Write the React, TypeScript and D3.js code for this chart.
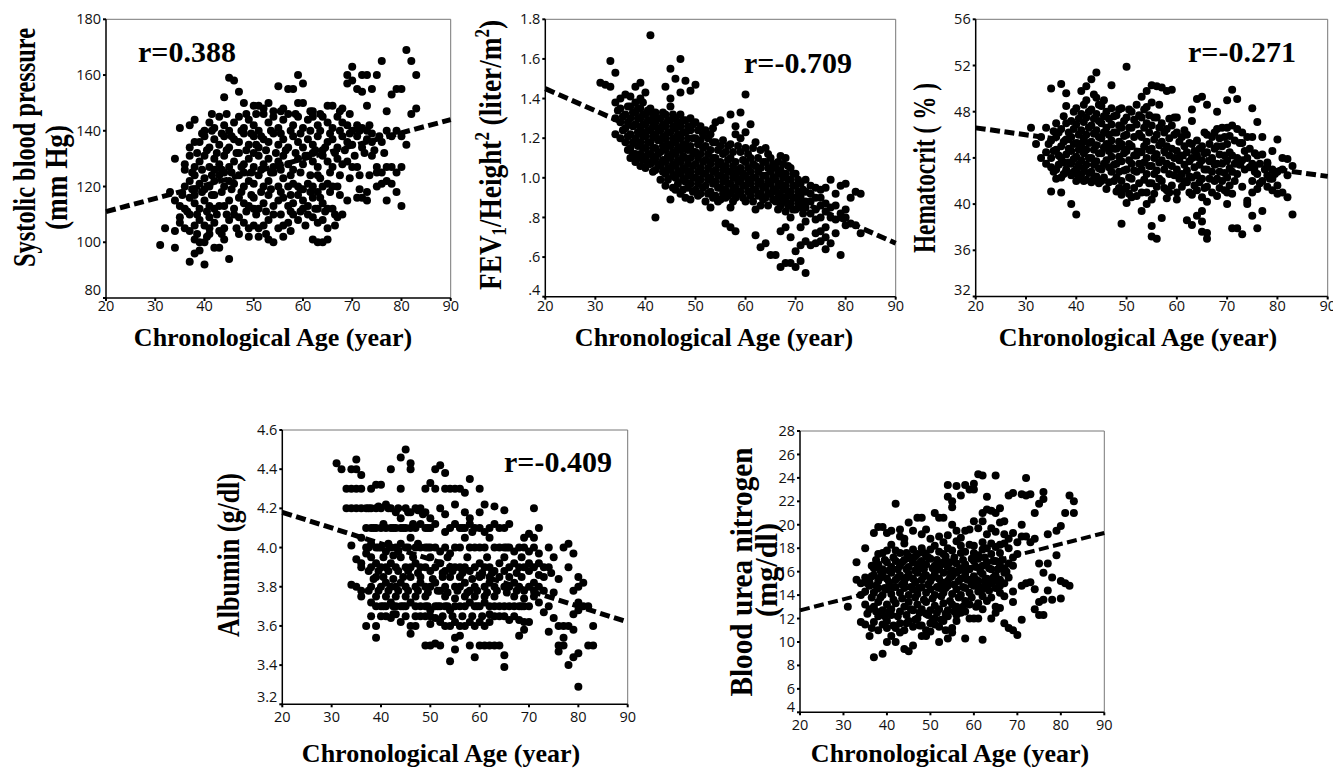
import React from "react";
import * as d3 from "d3";

// ---------- DATA ----------
const ageTicks = [20, 30, 40, 50, 60, 70, 80, 90];

const sbpTicks = [80, 100, 120, 140, 160, 180];
const fevTicks = [0.4, 0.6, 0.8, 1.0, 1.2, 1.4, 1.6, 1.8];
const fevTickLabels = [".4", ".6", ".8", "1.0", "1.2", "1.4", "1.6", "1.8"];
const hctTicks = [32, 36, 40, 44, 48, 52, 56];
const albTicks = [3.2, 3.4, 3.6, 3.8, 4.0, 4.2, 4.4, 4.6];
const albTickLabels = ["3.2", "3.4", "3.6", "3.8", "4.0", "4.2", "4.4", "4.6"];
const bunTicks = [4, 6, 8, 10, 12, 14, 16, 18, 20, 22, 24, 26, 28];

// regression line values at age 20 and age 90
const sbpFit = [111, 144];
const fevFit = [1.45, 0.67];
const hctFit = [46.6, 42.4];
const albFit = [4.18, 3.62];
const bunFit = [12.7, 19.3];

const rLabels = ["r=0.388", "r=-0.709", "r=-0.271", "r=-0.409"];

const sbpPoints: [number, number][] = [
  [37,93],[38,96],[39,97],[40,92],[31,99],[34,98],[42,98],[43,98],[45,94],[39,100],[38,101],[40,100],[41,103],[44,101],[47,103],[49,102],[51,102],[53,101],[54,100],[56,102],[62,101],[63,100],[64,100],[65,101],
  [32,105],[34,104],[35,107],[36,105],[37,104],[38,106],[39,108],[40,106],[41,105],[42,107],[43,104],[44,105],[45,108],[46,110],[48,107],[49,105],[50,106],[51,105],[52,106],[53,108],[55,105],[56,106],[57,107],[58,110],[59,108],[61,110],[62,109],[63,107],[64,108],[65,105],[67,109],[68,110],[35,109],[37,110],[41,109],[47,109],[54,110],
  [33,118],[34,115],[35,113],[36,112],[37,116],[38,114],[39,112],[40,115],[41,113],[42,117],[43,113],[44,113],[45,115],[46,112],[47,116],[48,114],[49,113],[50,116],[51,112],[52,114],[53,117],[54,113],[55,115],[56,116],[57,113],[58,114],[59,117],[60,115],[61,113],[62,116],[63,112],[64,114],[65,112],[66,112],[69,115],[71,116],[72,116],[73,115],[77,115],[80,113],[38,117],[42,112],[50,112],[60,112],
  [36,120],[37,122],[38,119],[39,121],[40,123],[41,120],[42,122],[43,124],[44,120],[45,122],[46,121],[47,124],[48,120],[49,122],[50,121],[51,124],[52,120],[53,122],[54,125],[55,120],[56,123],[57,120],[58,121],[59,120],[60,119],[61,121],[62,120],[63,118],[64,120],[65,121],[66,120],[67,120],[73,118],[75,120],[76,121],[77,122],[78,121],[79,118],[38,124],[40,119],[44,125],[48,125],[63,124],[75,125],[76,125],[79,125],
  [34,130],[36,128],[37,131],[38,127],[39,129],[40,131],[41,127],[42,130],[43,128],[44,131],[45,127],[46,129],[47,132],[48,128],[49,130],[50,127],[51,131],[52,128],[53,130],[54,127],[55,129],[56,131],[57,128],[58,126],[59,130],[60,128],[61,131],[62,129],[63,127],[64,131],[65,129],[66,127],[67,130],[68,128],[69,129],[70,127],[71,127],[74,131],[75,127],[77,127],[78,127],[80,127],[36,126],[42,126],[50,132],[62,132],
  [37,134],[38,136],[39,136],[40,138],[41,134],[42,137],[43,135],[44,138],[45,134],[46,137],[47,136],[48,139],[49,135],[50,138],[51,134],[52,137],[53,136],[54,139],[55,135],[56,137],[57,134],[58,138],[59,136],[60,134],[61,137],[62,135],[63,138],[64,133],[65,136],[66,137],[67,134],[68,138],[69,136],[70,135],[71,138],[72,134],[73,137],[74,136],[76,136],[77,140],[78,138],[79,140],[80,138],[81,135],
  [35,141],[37,142],[38,144],[40,140],[41,143],[42,141],[43,145],[44,142],[45,140],[46,143],[47,145],[48,141],[49,144],[50,142],[51,140],[52,146],[53,143],[54,145],[55,141],[56,144],[57,146],[58,142],[59,145],[60,141],[61,144],[62,145],[63,142],[64,145],[65,143],[66,141],[67,145],[68,143],[69,142],[70,140],[71,142],[72,141],[73,140],[74,139],
  [44,152],[47,154],[48,150],[50,149],[51,149],[52,148],[53,150],[55,156],[56,148],[57,155],[58,155],[59,150],[60,150],[65,149],[66,149],[68,148],[71,155],[72,154],[73,149],[74,155],[77,147],[78,153],[79,155],[80,155],[82,146],[83,148],[54,147],[62,147],
  [45,159],[46,158],[59,160],[60,157],[69,160],[70,163],[70,158],[72,160],[73,160],[75,160],[76,165],[81,169],[82,165],[83,160],[69,157],
  [38.5,103],[40.5,102],[43.5,103],[46.5,105],[52.5,103],[57.5,104],[60.5,106],[66.5,106],
  [36.5,111],[38.5,110],[40.5,111],[42.5,110],[44.5,110],[48.5,111],[50.5,110],[52.5,111],[55.5,110],[57.5,111],[59.5,111],[62.5,112],[64.5,111],[66.5,110],
  [35.5,117],[37.5,119],[39.5,118],[41.5,117],[43.5,118],[45.5,119],[47.5,118],[49.5,117],[51.5,118],[53.5,119],[55.5,118],[57.5,117],[59.5,119],[61.5,118],[63.5,116],[65.5,118],[67.5,117],[71.5,119],
  [37.5,125],[39.5,126],[41.5,124],[43.5,126],[45.5,125],[47.5,127],[49.5,125],[51.5,126],[53.5,125],[55.5,126],[57.5,124],[59.5,125],[61.5,124],[63.5,123],[65.5,125],[67.5,124],[69.5,123],[71.5,124],[73.5,124],
  [38.5,132],[40.5,133],[42.5,132],[44.5,133],[46.5,132],[48.5,133],[50.5,135],[52.5,133],[54.5,132],[56.5,133],[58.5,132],[60.5,131],[62.5,133],[64.5,134],[66.5,132],[68.5,133],[70.5,131],[72.5,132],[74.5,133],[76.5,132],
  [39.5,139],[41.5,140],[43.5,139],[45.5,138],[47.5,140],[49.5,139],[51.5,138],[53.5,140],[55.5,139],[57.5,140],[59.5,139],[61.5,140],[63.5,140],[65.5,139],[67.5,140],[69.5,139],[71.5,140],[73.5,142],[75.5,138],
  [41.5,146],[44.5,146],[48.5,146],[50.5,146],[55.5,147],[58.5,146],[61.5,147],[63.5,146],[67.5,147],[69.5,146],
];

const fevPoints: [number, number][] = [
  [41,1.72],[33,1.59],[34,1.53],[31,1.48],[32,1.47],[33,1.46],[45,1.55],[47,1.60],[46,1.50],[48,1.49],[50,1.47],[49,1.44],[44,1.46],[45,1.40],[47,1.43],[39,1.48],[38,1.46],[40,1.43],[42,0.80],[60,1.42],[57,1.32],[59,1.33],[61,1.27],[58,1.26],
  [56,0.77],[57,0.75],[58,0.73],[57,0.85],[62,0.71],[63,0.65],[64,0.67],[65,0.61],[66,0.61],[67,0.55],[68,0.57],[69,0.57],[70,0.55],[72,0.52],[71,0.58],[71,0.66],[72,0.68],[73,0.66],[70,0.63],[69,0.70],[67,0.73],[68,0.75],[79,0.61],[76,0.64],[75,0.68],[74,0.72],[77,0.67],[78,0.79],[80,0.80],[81,0.77],[82,0.76],[83,0.72],[81,0.90],[82,0.93],[83,0.92],[80,0.97],[79,0.96],[77,0.99],[76,0.95],[78,0.92],[80,0.84],[77,0.85],[76,0.87],[75,0.90],[74,0.95],[73,0.88],[75,0.80],[76,0.75],[74,0.79],[73,0.82],[72,0.85],[72,0.78],[71,0.75],[45,0.89],[44,0.96],[47,0.92],
  [34,1.38],[35,1.35],[34,1.30],[35,1.28],[36,1.25],[35,1.20],[36,1.18],[34,1.22],[36,1.32],[35,1.40],[36,1.42],[37,1.41],[37,1.36],[37,1.30],[37,1.22],[37,1.15],[37,1.10],[38,1.38],[38,1.33],[38,1.27],[38,1.20],[38,1.12],[38,1.08],
  [39,1.40],[39,1.35],[39,1.30],[39,1.25],[39,1.18],[39,1.12],[39,1.06],[40,1.32],[40,1.27],[40,1.21],[40,1.15],[40,1.10],[40,1.05],[41,1.35],[41,1.29],[41,1.24],[41,1.18],[41,1.12],[41,1.07],[42,1.33],[42,1.28],[42,1.22],[42,1.15],[42,1.10],[42,1.04],[43,1.30],[43,1.24],[43,1.19],[43,1.13],[43,1.06],[43,0.99],
  [44,1.32],[44,1.26],[44,1.20],[44,1.14],[44,1.08],[44,1.02],[45,1.36],[45,1.29],[45,1.23],[45,1.16],[45,1.10],[45,1.04],[46,1.30],[46,1.25],[46,1.18],[46,1.12],[46,1.06],[46,1.00],[46,0.94],[47,1.32],[47,1.26],[47,1.20],[47,1.14],[47,1.08],[47,1.02],[48,1.29],[48,1.23],[48,1.17],[48,1.10],[48,1.04],[48,0.98],[48,0.90],
  [49,1.30],[49,1.24],[49,1.16],[49,1.10],[49,1.03],[49,0.97],[49,0.89],[50,1.28],[50,1.20],[50,1.13],[50,1.07],[50,1.00],[50,0.94],[51,1.26],[51,1.19],[51,1.12],[51,1.05],[51,0.99],[51,0.92],[52,1.24],[52,1.16],[52,1.09],[52,1.02],[52,0.96],[52,0.88],[53,1.22],[53,1.14],[53,1.07],[53,1.00],[53,0.93],[53,0.85],
  [54,1.28],[54,1.18],[54,1.10],[54,1.04],[54,0.98],[54,0.91],[55,1.29],[55,1.16],[55,1.08],[55,1.01],[55,0.95],[55,0.89],[56,1.13],[56,1.06],[56,1.00],[56,0.94],[56,0.90],[57,1.17],[57,1.10],[57,1.03],[57,0.97],[57,0.92],[58,1.22],[58,1.08],[58,1.01],[58,0.95],[58,0.90],
  [59,1.20],[59,1.13],[59,1.05],[59,0.99],[59,0.93],[60,1.23],[60,1.15],[60,1.08],[60,1.01],[60,0.96],[60,0.88],[61,1.10],[61,1.03],[61,0.97],[61,0.91],[62,1.18],[62,1.06],[62,1.00],[62,0.94],[62,0.84],[63,1.14],[63,1.05],[63,0.98],[63,0.92],[63,0.86],
  [64,1.15],[64,1.08],[64,1.01],[64,0.95],[64,0.90],[65,1.10],[65,1.03],[65,0.97],[65,0.92],[66,1.05],[66,0.99],[66,0.93],[66,0.88],[67,1.11],[67,1.04],[67,0.97],[67,0.91],[67,0.86],[68,1.10],[68,1.02],[68,0.96],[68,0.89],[68,0.83],
  [69,1.05],[69,0.99],[69,0.93],[69,0.87],[69,0.80],[70,1.02],[70,0.96],[70,0.90],[70,0.84],[71,0.97],[71,0.91],[71,0.85],[72,0.99],[72,0.93],[72,0.88],
  [34.5,1.34],[35.5,1.31],[35.5,1.24],[36.5,1.36],[36.5,1.28],[36.5,1.21],[36.5,1.14],[37.5,1.33],[37.5,1.26],[37.5,1.18],[37.5,1.12],[38.5,1.35],[38.5,1.30],[38.5,1.23],[38.5,1.16],[38.5,1.10],
  [39.5,1.38],[39.5,1.32],[39.5,1.27],[39.5,1.21],[39.5,1.15],[39.5,1.09],[40.5,1.34],[40.5,1.29],[40.5,1.24],[40.5,1.18],[40.5,1.12],[40.5,1.07],[41.5,1.32],[41.5,1.26],[41.5,1.21],[41.5,1.15],[41.5,1.09],[41.5,1.03],[42.5,1.30],[42.5,1.25],[42.5,1.19],[42.5,1.12],[42.5,1.07],[43.5,1.33],[43.5,1.27],[43.5,1.21],[43.5,1.16],[43.5,1.09],[43.5,1.03],
  [44.5,1.29],[44.5,1.23],[44.5,1.17],[44.5,1.11],[44.5,1.05],[44.5,0.99],[45.5,1.32],[45.5,1.26],[45.5,1.20],[45.5,1.13],[45.5,1.07],[45.5,1.01],[45.5,0.95],[46.5,1.28],[46.5,1.22],[46.5,1.15],[46.5,1.09],[46.5,1.03],[46.5,0.97],[47.5,1.29],[47.5,1.23],[47.5,1.17],[47.5,1.11],[47.5,1.05],[47.5,0.99],[47.5,0.94],[48.5,1.26],[48.5,1.20],[48.5,1.14],[48.5,1.07],[48.5,1.01],[48.5,0.95],
  [49.5,1.27],[49.5,1.20],[49.5,1.13],[49.5,1.06],[49.5,1.00],[49.5,0.93],[50.5,1.24],[50.5,1.17],[50.5,1.10],[50.5,1.03],[50.5,0.97],[50.5,0.91],[51.5,1.22],[51.5,1.15],[51.5,1.08],[51.5,1.02],[51.5,0.95],[52.5,1.20],[52.5,1.12],[52.5,1.05],[52.5,0.99],[52.5,0.92],[53.5,1.25],[53.5,1.18],[53.5,1.10],[53.5,1.03],[53.5,0.97],[53.5,0.90],
  [54.5,1.14],[54.5,1.07],[54.5,1.01],[54.5,0.95],[54.5,0.88],[55.5,1.19],[55.5,1.12],[55.5,1.04],[55.5,0.98],[55.5,0.92],[56.5,1.16],[56.5,1.09],[56.5,1.03],[56.5,0.97],[56.5,0.91],[57.5,1.13],[57.5,1.06],[57.5,1.00],[57.5,0.94],[57.5,0.88],[58.5,1.16],[58.5,1.04],[58.5,0.98],[58.5,0.92],
  [59.5,1.09],[59.5,1.02],[59.5,0.96],[59.5,0.90],[60.5,1.12],[60.5,1.05],[60.5,0.99],[60.5,0.93],[61.5,1.15],[61.5,1.07],[61.5,1.00],[61.5,0.94],[61.5,0.88],[62.5,1.10],[62.5,1.03],[62.5,0.97],[62.5,0.91],[63.5,1.08],[63.5,1.01],[63.5,0.95],[63.5,0.89],
  [64.5,1.12],[64.5,1.05],[64.5,0.98],[64.5,0.92],[64.5,0.86],[65.5,1.07],[65.5,1.00],[65.5,0.94],[65.5,0.89],[66.5,1.08],[66.5,1.02],[66.5,0.96],[66.5,0.90],[66.5,0.84],[67.5,1.07],[67.5,1.00],[67.5,0.94],[67.5,0.88],[68.5,1.06],[68.5,0.99],[68.5,0.93],[68.5,0.86],[69.5,1.02],[69.5,0.96],[69.5,0.90],[69.5,0.84],[70.5,0.99],[70.5,0.93],[70.5,0.87],[71.5,0.94],[71.5,0.88],[71.5,0.82],[73,0.92],[73,0.96],[74,0.90],[74,0.84],[75,0.86],[75,0.94],[76,0.83],[77,0.80],[78,0.86],[79,0.82],[80,0.76],[78,0.72],[76,0.70],[75,0.73],[74,0.67],
];

const hctPoints: [number, number][] = [
  [50,51.9],[44,51.4],[43,50.8],[42,50.2],[41,49.8],[35,50.0],[37,50.4],[38,49.6],[47,50.3],[55,50.3],[56,50.2],[57,50.1],[58,49.8],[59,49.9],[54,49.8],[53,49.3],[71,49.9],[72,49.1],[70,49.0],[65,49.3],[64,49.1],[66,48.6],[68,48.0],[75,48.3],[76,47.1],[63,48.2],[63,47.2],[31,46.6],[32,45.2],[33,45.8],[34,46.6],[35,41.1],[37,41.0],[39,40.0],[40,39.1],[49,38.3],[53,39.4],[55,38.1],[55,37.2],[56,37.0],[57,38.8],[62,38.6],[63,38.2],[64,39.0],[65,39.4],[65,38.5],[65,37.6],[66,37.0],[66,37.5],[71,37.9],[72,37.9],[73,37.4],[76,37.9],[75,39.0],[77,39.4],[83,39.1],[80,45.6],[82,43.9],[81,44.0],[83,43.3],[82,40.6],[81,41.0],[79,44.6],[78,43.6],[70,40.0],[66,40.2],[54,40.0],[55,40.4],[50,40.1],[60,40.4],
  [33,44.0],[34,44.5],[34,43.5],[35,45.5],[35,44.0],[35,43.2],[36,47.0],[36,45.8],[36,44.7],[36,43.0],[36,42.2],[37,46.5],[37,45.0],[37,44.0],[37,42.3],[38,48.5],[38,47.0],[38,45.6],[38,44.3],[38,43.0],[38,42.8],
  [39,47.2],[39,45.8],[39,44.6],[39,43.5],[39,42.5],[40,48.3],[40,46.9],[40,45.3],[40,44.1],[40,43.0],[40,42.0],[41,47.8],[41,46.4],[41,45.0],[41,43.8],[41,42.6],[42,49.0],[42,47.5],[42,46.0],[42,44.7],[42,43.4],[42,42.1],[43,48.2],[43,46.8],[43,45.4],[43,44.0],[43,42.8],[43,41.9],
  [44,49.2],[44,47.8],[44,46.4],[44,45.1],[44,43.7],[44,42.4],[45,48.5],[45,47.0],[45,45.7],[45,44.4],[45,43.0],[45,42.0],[46,48.0],[46,46.6],[46,45.2],[46,43.8],[46,41.3],[47,48.3],[47,46.9],[47,45.5],[47,44.1],[47,42.8],[48,47.7],[48,46.2],[48,44.8],[48,43.5],[48,42.3],[48,41.1],
  [49,48.3],[49,46.6],[49,45.2],[49,43.7],[49,42.0],[49,40.8],[50,47.5],[50,46.0],[50,44.6],[50,43.0],[50,41.5],[51,48.0],[51,46.6],[51,45.0],[51,43.5],[51,42.2],[51,40.6],[52,48.6],[52,46.9],[52,44.2],[52,42.8],[52,40.7],[53,47.5],[53,45.8],[53,44.5],[53,43.0],[53,41.0],
  [54,48.4],[54,47.0],[54,45.4],[54,44.0],[54,42.6],[54,41.0],[55,48.8],[55,46.8],[55,44.8],[55,43.3],[55,41.8],[56,47.5],[56,46.0],[56,44.3],[56,42.9],[56,41.5],[57,47.0],[57,45.4],[57,43.8],[57,42.0],[58,46.5],[58,45.0],[58,43.5],[58,41.2],[58,40.5],
  [59,46.8],[59,44.8],[59,43.3],[59,41.6],[60,47.5],[60,46.2],[60,44.6],[60,43.0],[60,41.0],[61,45.8],[61,44.2],[61,42.6],[61,41.5],[62,46.0],[62,44.5],[62,42.9],[62,41.9],[63,45.2],[63,44.0],[63,42.3],[63,40.8],
  [64,45.5],[64,44.2],[64,42.5],[64,41.2],[65,45.0],[65,43.8],[65,42.2],[65,40.6],[66,46.0],[66,44.5],[66,43.0],[66,41.5],[67,45.8],[67,44.0],[67,42.8],[67,41.0],[68,46.5],[68,45.0],[68,43.5],[68,42.2],[68,40.7],
  [69,46.6],[69,45.0],[69,43.5],[69,42.0],[70,46.6],[70,45.2],[70,43.8],[70,42.3],[70,41.0],[71,46.8],[71,44.2],[71,42.8],[71,40.9],[72,46.5],[72,44.0],[72,42.6],[73,46.2],[73,45.3],[73,43.8],[73,41.5],[74,45.8],[74,44.0],[74,40.3],[74,40.0],
  [75,45.8],[75,43.5],[75,42.0],[75,41.0],[76,44.2],[76,42.6],[76,41.3],[77,45.8],[77,44.3],[77,42.0],[78,43.5],[78,42.5],[78,41.5],[79,43.0],[79,42.2],[79,41.2],[80,42.8],[80,41.6],[80,40.9],
  [34.5,45.2],[35.5,46.3],[35.5,44.6],[35.5,42.8],[36.5,46.2],[36.5,44.2],[36.5,43.4],[37.5,47.6],[37.5,45.4],[37.5,43.6],[37.5,42.6],[38.5,46.2],[38.5,44.8],[38.5,43.6],[39.5,48.0],[39.5,46.5],[39.5,45.2],[39.5,43.9],[39.5,42.8],[40.5,47.4],[40.5,46.0],[40.5,44.7],[40.5,43.4],[40.5,42.4],[41.5,48.6],[41.5,47.1],[41.5,45.7],[41.5,44.4],[41.5,43.1],[41.5,42.0],[42.5,48.0],[42.5,46.6],[42.5,45.3],[42.5,44.0],[42.5,42.7],[43.5,49.5],[43.5,47.4],[43.5,46.1],[43.5,44.7],[43.5,43.4],[43.5,42.2],
  [44.5,48.6],[44.5,47.2],[44.5,45.8],[44.5,44.4],[44.5,43.1],[44.5,41.8],[45.5,49.0],[45.5,47.6],[45.5,46.2],[45.5,44.9],[45.5,43.5],[45.5,42.3],[46.5,47.4],[46.5,46.0],[46.5,44.6],[46.5,43.2],[46.5,41.9],[47.5,47.6],[47.5,46.2],[47.5,44.8],[47.5,43.4],[47.5,42.0],[48.5,48.2],[48.5,46.8],[48.5,45.4],[48.5,44.1],[48.5,42.8],[48.5,41.4],
  [49.5,47.2],[49.5,45.9],[49.5,44.4],[49.5,42.9],[49.5,41.3],[50.5,48.2],[50.5,46.6],[50.5,45.2],[50.5,43.8],[50.5,42.3],[50.5,40.9],[51.5,47.3],[51.5,45.8],[51.5,44.2],[51.5,42.9],[51.5,41.4],[52.5,47.7],[52.5,46.1],[52.5,43.5],[52.5,41.8],[53.5,48.2],[53.5,46.6],[53.5,45.0],[53.5,43.6],[53.5,42.1],
  [54.5,47.7],[54.5,46.2],[54.5,44.7],[54.5,43.3],[54.5,41.8],[55.5,47.5],[55.5,45.6],[55.5,44.0],[55.5,42.6],[55.5,40.9],[56.5,48.6],[56.5,46.6],[56.5,45.1],[56.5,43.6],[56.5,42.2],[57.5,46.2],[57.5,44.6],[57.5,43.0],[57.5,41.4],[58.5,47.4],[58.5,45.7],[58.5,44.2],[58.5,42.6],[58.5,41.0],
  [59.5,47.5],[59.5,46.0],[59.5,44.0],[59.5,42.5],[60.5,45.4],[60.5,43.8],[60.5,42.2],[61.5,46.4],[61.5,45.0],[61.5,43.4],[61.5,42.0],[62.5,45.3],[62.5,43.7],[62.5,42.4],[62.5,41.0],[63.5,44.6],[63.5,43.2],[63.5,41.6],
  [64.5,44.8],[64.5,43.4],[64.5,41.9],[65.5,46.2],[65.5,44.4],[65.5,43.0],[65.5,41.4],[66.5,45.2],[66.5,43.7],[66.5,42.2],[67.5,46.2],[67.5,44.8],[67.5,43.4],[67.5,42.0],[68.5,45.7],[68.5,44.3],[68.5,42.8],[68.5,41.4],
  [69.5,45.8],[69.5,44.2],[69.5,42.7],[69.5,41.2],[70.5,45.9],[70.5,44.5],[70.5,43.1],[70.5,41.6],[71.5,45.5],[71.5,43.5],[71.5,42.0],[72.5,45.3],[72.5,43.4],[73.5,44.6],[73.5,43.0],[74.5,44.8],[74.5,43.2],[75.5,44.4],[75.5,42.8],[76.5,43.5],[76.5,41.8],[77.5,43.0],[78.5,42.2],[79.5,42.6],[81,43.0],[82,42.5],
];

const albPoints: [number, number][] = [
  [31,4.43],[32,4.40],[34,4.40],[35,4.45],[35,4.40],[36,4.37],[42,4.40],[44,4.46],[45,4.50],[46,4.43],[46,4.40],[51,4.40],[52,4.42],[53,4.38],[33,4.30],[34,4.30],[35,4.30],[36,4.30],[38,4.30],[39,4.32],[40,4.32],[44,4.30],[49,4.30],[50,4.33],[51,4.30],[53,4.30],[54,4.30],[55,4.30],[56,4.30],[57,4.28],[58,4.35],[60,4.30],[61,4.22],[63,4.21],[65,4.19],[71,4.20],[72,4.10],[70,4.07],[69,4.05],
  [34,4.01],[35,3.94],[36,3.92],[34,3.81],[35,3.80],[36,3.78],[36,3.75],[37,3.60],[38,3.65],[39,3.60],[39,3.54],[40,3.65],[42,3.64],[43,3.66],[46,3.56],[46,3.60],[47,3.60],[50,3.61],[49,3.50],[50,3.50],[51,3.51],[52,3.50],[54,3.42],[55,3.48],[55,3.54],[56,3.55],[58,3.50],[59,3.44],[60,3.50],[61,3.50],[62,3.50],[63,3.50],[64,3.50],[65,3.45],[65,3.39],[68,3.55],[69,3.58],[76,3.50],[76,3.47],[77,3.50],[77,3.54],[78,3.40],[79,3.44],[80,3.46],[80,3.29],[82,3.50],[83,3.50],[83,3.60],[81,3.70],[82,3.70],[80,3.68],[79,3.66],[80,3.72],[79,3.78],[80,3.80],[81,3.82],[80,3.85],[79,3.97],[78,4.02],[77,4.00],[78,3.90],[74,4.00],[75,3.95],[76,3.84],[75,3.77],[74,3.70],[75,3.64],[74,3.57],[76,3.60],[77,3.60],[78,3.60],[79,3.58],
  [33,4.2],[34,4.2],[35,4.2],[36,4.2],[37,4.2],[38,4.2],[39,4.2],[40,4.2],[41,4.22],[42,4.2],[43,4.18],[44,4.15],[45,4.2],[46,4.18],[47,4.2],[48,4.2],[49,4.18],[50,4.15],[57,4.18],[58,4.15],[60,4.18],
  [37,4.1],[38,4.1],[39,4.1],[40,4.1],[41,4.1],[42,4.1],[43,4.1],[44,4.1],[45,4.1],[46,4.1],[47,4.1],[48,4.12],[49,4.1],[50,4.1],[51,4.12],[54,4.1],[55,4.12],[56,4.1],[57,4.1],[58,4.12],[59,4.1],[62,4.1],[63,4.12],[65,4.1],
  [36,4.05],[37,4.0],[38,4.02],[39,4.0],[40,4.0],[41,3.98],[42,4.0],[43,4.0],[44,4.02],[45,4.0],[46,4.05],[47,4.0],[48,4.0],[49,4.0],[50,4.0],[52,3.98],[53,4.0],[54,3.97],[56,4.0],[57,4.05],[58,4.0],[60,4.0],[61,4.0],[62,4.05],[64,4.0],[65,4.0],[66,4.0],[67,3.98],[69,4.0],[70,3.98],[71,4.0],
  [36,3.9],[37,3.97],[38,3.9],[39,3.92],[40,3.9],[41,3.9],[42,3.92],[43,3.9],[44,3.95],[45,3.9],[46,3.9],[47,3.92],[48,3.9],[49,3.9],[51,3.9],[52,3.92],[53,3.88],[54,3.9],[55,3.9],[56,3.9],[57,3.9],[59,3.9],[60,3.92],[61,3.9],[62,3.9],[63,3.88],[64,3.92],[66,3.9],[67,3.92],[68,3.9],[69,3.9],[71,3.9],[72,3.92],[73,3.9],
  [38,3.8],[39,3.85],[40,3.8],[41,3.82],[42,3.8],[43,3.8],[44,3.82],[45,3.8],[46,3.85],[47,3.8],[48,3.82],[49,3.8],[50,3.8],[51,3.82],[52,3.78],[53,3.8],[54,3.85],[55,3.8],[56,3.8],[57,3.82],[58,3.78],[59,3.8],[60,3.85],[61,3.8],[62,3.82],[63,3.8],[64,3.85],[65,3.8],[66,3.8],[67,3.82],[68,3.8],[69,3.78],[70,3.8],[71,3.82],[72,3.8],[73,3.85],
  [38,3.72],[39,3.7],[40,3.7],[41,3.7],[42,3.72],[43,3.7],[44,3.7],[45,3.7],[46,3.72],[48,3.7],[49,3.7],[50,3.68],[51,3.7],[52,3.7],[53,3.7],[54,3.68],[57,3.7],[58,3.72],[59,3.7],[60,3.7],[61,3.72],[62,3.7],[64,3.7],[66,3.7],[67,3.7],[68,3.7],[69,3.7],[71,3.75],[72,3.72],
  [44,3.62],[45,3.65],[48,3.65],[49,3.65],[51,3.64],[52,3.62],[53,3.6],[54,3.6],[55,3.62],[56,3.6],[57,3.6],[58,3.62],[59,3.6],[60,3.62],[61,3.6],[62,3.62],[63,3.65],[65,3.65],[66,3.63],[69,3.62],[70,3.62],[73,3.67],
  [37.5,4.2],[39.5,4.21],[41.5,4.2],[43.5,4.2],[45.5,4.18],[47.5,4.19],[48.5,4.17],[52,4.2],[53,4.17],[55,4.22],
  [38.5,4.1],[40.5,4.12],[42.5,4.1],[44.5,4.1],[46.5,4.12],[49.5,4.1],[53,4.08],[56.5,4.1],[58.5,4.08],[60,4.1],[61,4.08],[64,4.1],[66,4.12],[71,4.05],
  [37.5,4.0],[39.5,4.0],[41.5,4.02],[43.5,3.98],[45.5,4.0],[47.5,4.02],[49.5,4.0],[51,4.0],[55,4.0],[59,4.0],[63,4.0],[65.5,4.0],[68,4.0],[72,3.97],
  [38,3.95],[40.5,3.95],[42.5,3.96],[46.5,3.95],[50,3.95],[53.5,3.95],[57.5,3.95],[61.5,3.95],[65,3.95],[68.5,3.95],[70,3.92],
  [37.5,3.88],[39.5,3.88],[41.5,3.88],[43.5,3.88],[45.5,3.88],[47.5,3.87],[50,3.88],[52.5,3.87],[54.5,3.88],[56.5,3.87],[58,3.88],[60.5,3.87],[62.5,3.87],[65,3.88],[67.5,3.87],[70,3.88],[74,3.9],
  [38.5,3.84],[40.5,3.85],[42.5,3.84],[44.5,3.85],[48,3.85],[50.5,3.84],[52.5,3.85],[56,3.85],[58.5,3.84],[62,3.85],[66,3.85],[68.5,3.85],[72,3.86],[74.5,3.87],
  [37.5,3.78],[39.5,3.78],[41.5,3.78],[43.5,3.78],[45.5,3.78],[47.5,3.78],[49.5,3.77],[51.5,3.78],[53.5,3.77],[55.5,3.78],[57.5,3.77],[59.5,3.78],[61.5,3.77],[63.5,3.78],[65.5,3.77],[67.5,3.78],[71,3.78],[73,3.78],
  [39,3.75],[41,3.75],[43,3.75],[45,3.75],[47,3.75],[49,3.75],[53,3.75],[55,3.74],[57,3.75],[59,3.75],[61,3.75],[63,3.75],[67,3.75],[69,3.74],
  [40.5,3.7],[42.5,3.7],[44.5,3.7],[47,3.7],[49.5,3.7],[51.5,3.7],[53.5,3.7],[55,3.7],[56,3.7],[59.5,3.7],[63,3.7],[65,3.7],[68.5,3.7],[70,3.7],
  [41,3.65],[42.5,3.66],[47,3.65],[50,3.65],[52.5,3.65],[54.5,3.65],[56.5,3.65],[58.5,3.65],[60.5,3.65],[62,3.66],[64,3.65],[67,3.65],[68,3.63],
];

const bunPoints: [number, number][] = [
  [37,8.7],[39,9.0],[44,9.4],[45,9.2],[46,9.7],[40,10.0],[41,10.5],[42,10.0],[36,10.5],[48,10.5],[49,10.5],[52,10.0],[54,10.3],[58,10.3],[62,10.2],[69,11.0],[70,10.6],[68,11.2],[67,11.6],[71,11.9],[64,12.0],[60,12.0],[61,12.0],[76,12.3],[75,12.3],[74,12.8],[31,13.0],[33,15.3],[34,15.0],[33,16.8],[35,18.0],[34,11.7],[35,11.5],[42,21.8],
  [37,19.3],[38,19.8],[39,19.8],[40,19.3],[41,19.5],[43,19.6],[45,20.2],[46,19.5],[47,20.6],[48,20.6],[49,19.6],[51,21.0],[52,20.6],[53,20.6],[54,23.4],[54,22.4],[55,21.5],[55,22.0],[56,23.3],[57,22.5],[58,23.4],[59,23.0],[60,23.5],[61,24.3],[62,24.2],[65,24.2],[60,23.0],[63,22.4],[62,21.0],[63,21.3],[64,21.2],[65,21.0],[66,21.4],[67,20.3],[68,22.5],[69,22.7],[71,22.6],[72,22.5],[73,22.6],[72,24.0],[74,21.0],[75,21.8],[76,22.2],[76,22.8],[77,19.2],[79,19.5],[80,19.9],[81,21.0],[82,22.5],[83,22.0],[83,21.0],
  [79,17.4],[82,14.8],[81,15.0],[80,13.7],[80,15.2],[78,13.6],[77,16.7],[78,15.5],[76,15.9],[75,16.7],[74,14.5],[75,13.4],[76,13.6],[77,14.4],[73,15.1],[72,15.0],[71,14.8],[69,14.3],[69,13.4],[70,17.5],[70,18.5],[71,19.0],[72,19.0],[73,18.5],[74,18.8],[71,20.0],[67,13.9],[66,12.9],[65,13.0],
  [37,11.7],[38,12.2],[39,11.5],[40,11.8],[41,12.3],[42,11.2],[43,11.6],[44,11.0],[45,11.8],[46,11.3],[47,12.0],[48,11.4],[49,11.0],[50,11.6],[51,12.0],[52,11.3],[53,11.8],[54,12.2],[55,11.2],[56,11.8],[57,12.5],[59,12.0],[43,10.8],[50,10.9],[51,11.5],[55,10.8],
  [35,13.2],[36,12.8],[37,13.0],[38,13.4],[39,12.7],[40,13.2],[41,12.8],[42,13.3],[43,12.6],[44,13.0],[45,13.4],[46,12.7],[47,13.2],[48,12.8],[49,13.4],[50,12.7],[51,13.1],[52,12.8],[53,13.3],[54,12.7],[55,13.2],[56,13.0],[58,13.5],[59,13.2],[61,13.3],[63,13.5],[64,13.8],
  [34,14.0],[35,14.3],[36,14.8],[37,14.2],[38,14.6],[39,14.0],[40,14.5],[41,14.1],[42,14.7],[43,14.2],[44,14.6],[45,14.0],[46,14.5],[47,14.1],[48,14.7],[49,14.2],[50,14.5],[51,14.0],[52,14.6],[53,14.2],[54,14.8],[55,14.1],[56,14.5],[57,14.0],[58,14.6],[59,14.2],[60,14.8],[61,14.3],[62,14.5],[63,14.9],[65,14.6],[66,14.2],
  [35,15.5],[36,15.1],[37,15.7],[38,15.2],[39,15.8],[40,15.4],[41,15.9],[42,15.3],[43,15.7],[44,15.2],[45,15.8],[46,15.4],[47,15.9],[48,15.3],[49,15.7],[50,15.2],[51,15.8],[52,15.4],[53,15.9],[54,15.2],[55,15.6],[56,15.9],[57,15.4],[58,15.8],[59,15.3],[60,15.6],[61,15.2],[62,15.8],[63,15.4],[64,15.0],[65,15.7],[66,15.3],[67,15.9],[68,15.5],[66,14.8],
  [37,16.3],[38,16.6],[39,16.2],[40,16.8],[41,16.4],[42,16.9],[43,16.5],[44,17.0],[45,16.4],[46,16.8],[47,16.3],[48,16.9],[49,16.6],[50,17.1],[51,16.5],[52,16.2],[53,16.8],[54,16.4],[55,16.1],[56,16.7],[57,16.3],[58,16.6],[59,16.2],[60,16.9],[61,17.1],[62,16.5],[63,16.8],[64,16.2],[65,16.9],[66,16.5],[67,16.3],[68,16.7],[69,16.5],
  [38,17.5],[40,17.8],[41,18.3],[43,17.6],[44,18.4],[45,17.3],[46,17.9],[47,17.5],[48,18.0],[49,17.4],[51,18.2],[52,17.7],[53,18.5],[55,17.8],[56,18.6],[57,18.2],[58,17.7],[59,18.3],[60,17.6],[61,17.4],[62,18.5],[63,18.0],[64,17.5],[65,18.1],[66,17.6],[67,18.4],[68,18.0],[69,17.2],
  [43,19.0],[44,18.8],[48,19.2],[50,18.8],[52,19.0],[54,19.1],[55,20.0],[56,19.5],[57,18.9],[58,19.5],[59,19.6],[60,20.3],[61,19.7],[62,20.3],[63,19.2],[64,19.7],[65,19.4],[66,20.2],[67,19.2],[68,18.8],[69,19.3],
  [35.5,12.4],[36.5,13.8],[37.5,12.6],[38.5,13.8],[39.5,12.2],[40.5,12.6],[41.5,13.6],[42.5,12.2],[43.5,13.7],[44.5,12.3],[45.5,12.8],[46.5,13.8],[47.5,12.5],[48.5,13.6],[49.5,12.3],[50.5,13.7],[51.5,12.5],[52.5,13.9],[53.5,12.4],[54.5,13.5],[55.5,12.6],[56.5,13.8],[57.5,13.0],[59.5,13.8],[60.5,13.0],[62,13.9],
  [35.5,15.0],[36.5,15.6],[37.5,14.8],[38.5,15.5],[39.5,14.6],[40.5,15.1],[41.5,14.7],[42.5,15.5],[43.5,14.9],[44.5,15.5],[45.5,14.7],[46.5,15.1],[47.5,14.6],[48.5,15.6],[49.5,14.9],[50.5,15.5],[51.5,14.7],[52.5,15.1],[53.5,14.6],[54.5,15.5],[55.5,14.9],[56.5,15.2],[57.5,14.7],[58.5,15.3],[59.5,14.9],[60.5,15.3],[61.5,14.7],[62.5,15.2],[63.5,14.4],[64.5,15.5],[65.5,15.2],[67,15.0],
  [36.5,16.5],[37.5,17.0],[38.5,16.1],[39.5,17.0],[40.5,16.1],[41.5,17.2],[42.5,16.2],[43.5,16.8],[44.5,16.2],[45.5,17.1],[46.5,16.1],[47.5,16.7],[48.5,16.2],[49.5,17.2],[50.5,16.3],[51.5,17.0],[52.5,16.6],[53.5,17.3],[54.5,16.8],[55.5,17.2],[56.5,16.1],[57.5,17.0],[58.5,16.2],[59.5,17.1],[60.5,16.4],[61.5,16.0],[62.5,17.2],[63.5,16.3],[64.5,16.9],[65.5,16.2],[66.5,17.0],[67.5,16.0],
  [39,17.6],[42,17.8],[44.5,17.6],[46.5,17.3],[48.5,17.6],[50,17.9],[53,17.5],[54,18.0],[57,17.6],[60,18.2],[62,17.9],[64,18.4],[66,18.3],
  [36.5,11.2],[38,11.0],[40,11.2],[41.5,11.4],[44.5,11.6],[46.5,11.9],[47.5,11.4],[49,12.4],[50.5,11.8],[52.5,11.9],[53.5,11.0],[56,12.3],[58,12.6],[62,12.8],[65,12.5],
];

// ---------- RENDERING ----------
const SERIF = "'Liberation Serif', 'Times New Roman', serif";
const SANS = "'Open Sans', 'DejaVu Sans', sans-serif";

type YTitleLine = { text: React.ReactNode; x: number; cy: number; size: number; len?: number };

type PanelProps = {
  x0: number; x1: number; yTop: number; yBot: number;
  yDomain: [number, number];
  yTicks: number[];
  yTickLabels?: string[];
  points: [number, number][];
  fit: number[];
  r?: { text: string; x: number; y: number };
  xTitle: { cx: number; y: number };
  xLabelOffset: number;
  bottomLabelShift: number;
  yTitle: YTitleLine[];
  lineWidth?: number;
};

function Panel(p: PanelProps) {
  const xs = d3.scaleLinear().domain([20, 90]).range([p.x0, p.x1]);
  const ys = d3.scaleLinear().domain(p.yDomain).range([p.yBot, p.yTop]);
  const line = d3.line<[number, number]>().x((d) => xs(d[0])).y((d) => ys(d[1]));
  const fitPts: [number, number][] = [[20, p.fit[0]], [90, p.fit[1]]];
  return (
    <g>
      <line x1={p.x0} x2={p.x1} y1={p.yTop} y2={p.yTop} stroke="#777" strokeWidth={1} />
      <line x1={p.x1} x2={p.x1} y1={p.yTop} y2={p.yBot} stroke="#777" strokeWidth={1} />
      {p.points.map((d, i) => (
        <circle key={i} cx={xs(d[0])} cy={ys(d[1])} r={4} fill="#000" />
      ))}
      <path d={line(fitPts) || ""} stroke="#000" strokeWidth={p.lineWidth ?? 5} strokeDasharray="10 4.5" fill="none" />
      <line x1={p.x0} x2={p.x0} y1={p.yTop} y2={p.yBot + 1} stroke="#000" strokeWidth={1.5} />
      <line x1={p.x0 - 1} x2={p.x1} y1={p.yBot} y2={p.yBot} stroke="#000" strokeWidth={1.5} />
      {p.yTicks.map((t, i) => (
        <g key={"yt" + i}>
          <line x1={p.x0 - 3} x2={p.x0} y1={ys(t)} y2={ys(t)} stroke="#000" strokeWidth={2} />
          <text
            x={p.x0 - 5}
            y={ys(t) + (i === 0 ? p.bottomLabelShift : 0)}
            dy="0.35em"
            textAnchor="end"
            fontFamily={SANS}
            fontSize={14.5}
            fill="#111"
          >
            {p.yTickLabels ? p.yTickLabels[i] : String(t)}
          </text>
        </g>
      ))}
      {ageTicks.map((t, i) => (
        <g key={"xt" + i}>
          <line x1={xs(t)} x2={xs(t)} y1={p.yBot} y2={p.yBot + 3} stroke="#000" strokeWidth={2} />
          <text x={xs(t)} y={p.yBot + p.xLabelOffset} textAnchor="middle" fontFamily={SANS} fontSize={14.5} fill="#111">
            {t}
          </text>
        </g>
      ))}
      {p.r && (
        <text x={p.r.x} y={p.r.y} fontFamily={SERIF} fontWeight="bold" fontSize={30} fill="#000">
          {p.r.text}
        </text>
      )}
      <text x={p.xTitle.cx} y={p.xTitle.y} textAnchor="middle" fontFamily={SERIF} fontWeight="bold" fontSize={26} fill="#000">
        Chronological Age (year)
      </text>
      {p.yTitle.map((t, i) => (
        <g key={"ytl" + i} transform={`translate(${t.x},${t.cy}) scale(1.25,1) rotate(-90)`}>
          <text
            x={0}
            y={0}
            dy="0.33em"
            textAnchor="middle"
            fontFamily={SERIF}
            fontWeight="bold"
            fontSize={t.size}
            fill="#000"
            {...(t.len ? { textLength: t.len, lengthAdjust: "spacingAndGlyphs" } : {})}
          >
            {t.text}
          </text>
        </g>
      ))}
    </g>
  );
}

export default function App() {
  const fevTitle = (
    <>
      FEV<tspan fontSize={16} dy={4}>1</tspan>
      <tspan dy={-4}>/Height</tspan>
      <tspan fontSize={16} dy={-9}>2</tspan>
      <tspan dy={9}> (liter/m</tspan>
      <tspan fontSize={16} dy={-9}>2</tspan>
      <tspan dy={9}>)</tspan>
    </>
  );
  return (
    <svg width={1333} height={769} style={{ position: "absolute", left: 0, top: 0, background: "#fff" }}>
      <rect width={1333} height={769} fill="#fff" />
      <Panel
        x0={106} x1={450.7} yTop={19.3} yBot={298}
        yDomain={[80, 180]} yTicks={sbpTicks}
        points={sbpPoints} fit={sbpFit}
        r={{ text: rLabels[0], x: 138, y: 62 }}
        xTitle={{ cx: 273, y: 346 }} xLabelOffset={13} bottomLabelShift={-8}
        yTitle={[
          { text: "Systolic blood pressure", x: 25, cy: 147.5, size: 25, len: 239 },
          { text: "(mm Hg)", x: 57, cy: 177.5, size: 25, len: 105 },
        ]}
      />
      <Panel
        x0={545.3} x1={895.7} yTop={19.3} yBot={296.7}
        yDomain={[0.4, 1.8]} yTicks={fevTicks} yTickLabels={fevTickLabels}
        points={fevPoints} fit={fevFit}
        r={{ text: rLabels[1], x: 744, y: 73 }}
        xTitle={{ cx: 714, y: 346 }} xLabelOffset={14} bottomLabelShift={-7}
        yTitle={[{ text: fevTitle, x: 490, cy: 155, size: 26, len: 270 }]}
      />
      <Panel
        x0={975.7} x1={1327.7} yTop={19.3} yBot={296.5}
        yDomain={[32, 56]} yTicks={hctTicks}
        points={hctPoints} fit={hctFit}
        r={{ text: rLabels[2], x: 1188, y: 62 }}
        xTitle={{ cx: 1138, y: 346 }} xLabelOffset={14} bottomLabelShift={-7}
        yTitle={[{ text: "Hematocrit ( % )", x: 925, cy: 168, size: 25, len: 170 }]}
      />
      <Panel
        x0={282.3} x1={627.7} yTop={430} yBot={704.3}
        yDomain={[3.2, 4.6]} yTicks={albTicks} yTickLabels={albTickLabels}
        points={albPoints} fit={albFit}
        r={{ text: rLabels[3], x: 504, y: 472 }}
        xTitle={{ cx: 441, y: 762 }} xLabelOffset={17.5} bottomLabelShift={-7}
        yTitle={[{ text: "Albumin (g/dl)", x: 228, cy: 555, size: 26, len: 164 }]}
      />
      <Panel
        x0={800} x1={1104.3} yTop={431} yBot={712.3}
        yDomain={[4, 28]} yTicks={bunTicks}
        points={bunPoints} fit={bunFit}
        xTitle={{ cx: 950, y: 762 }} xLabelOffset={18} bottomLabelShift={-5}
        lineWidth={4}
        yTitle={[
          { text: "Blood urea nitrogen", x: 741.7, cy: 572, size: 26, len: 249 },
          { text: "(mg/dl)", x: 766.7, cy: 570, size: 26, len: 94 },
        ]}
      />
    </svg>
  );
}
